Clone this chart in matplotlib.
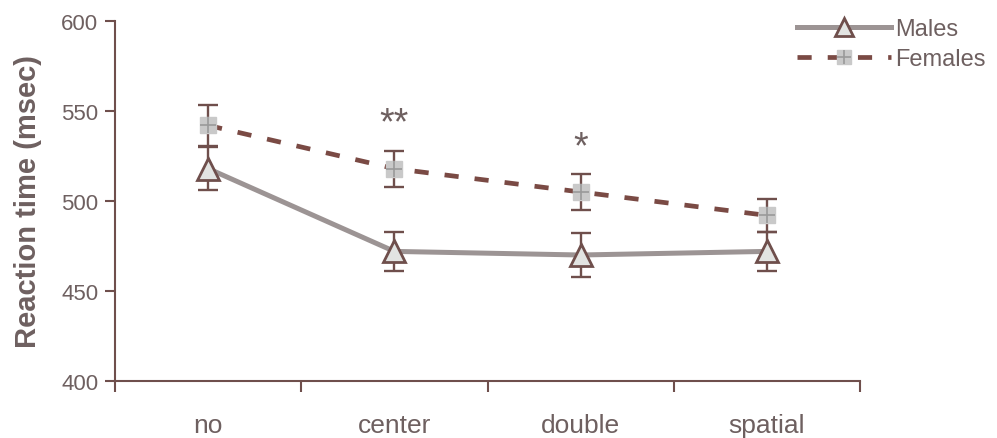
import numpy as np
import matplotlib.pyplot as plt
from matplotlib.lines import Line2D
from matplotlib.legend_handler import HandlerTuple

# data
cues = ["no", "center", "double", "spatial"]
males = [518, 472, 470, 472]
males_err = [12, 11, 12, 11]
females = [542, 518, 505, 492]
females_err = [11.5, 10, 10, 9]
stars = ["", "**", "*", ""]
star_y = [0, 537.5, 524.5, 0]

brown = "#6f4f4c"
txt = "#6e6060"
male_line = "#9c9494"
fem_line = "#7a4a44"
dash = (0, (3.0, 3.4))

plt.rcParams['font.family'] = ['Liberation Sans', 'DejaVu Sans']

fig = plt.figure(figsize=(9.97, 4.39), dpi=100)
ax = fig.add_axes([115/997, 57/439, 745/997, 360/439])

x = np.arange(len(cues))

# males
ax.plot(x, males, color=male_line, lw=3.6, zorder=2)
ax.errorbar(x, males, yerr=males_err, fmt='none', ecolor=brown, elinewidth=1.7,
            capsize=7, capthick=1.7, zorder=3)
ax.plot(x, males, ls='none', marker='^', ms=16, mfc='#e2e4e2', mec=brown, mew=2, zorder=5)

# females
ax.plot(x, females, color=fem_line, lw=3.4, ls=dash, zorder=2)
ax.errorbar(x, females, yerr=females_err, fmt='none', ecolor=brown, elinewidth=1.7,
            capsize=7, capthick=1.7, zorder=3)
ax.plot(x, females, ls='none', marker='s', ms=12, mfc='#c9c9c9', mec='#c9c9c9', zorder=4)
ax.plot(x, females, ls='none', marker='+', ms=12, mec='#9a9a9a', mew=1.2, zorder=5)

for i in range(len(cues)):
    if stars[i]:
        ax.text(x[i], star_y[i], stars[i], ha='center', va='baseline', fontsize=27, color=txt)

ax.set_xlim(-0.5, 3.5)
ax.set_ylim(400, 600)
ax.set_yticks([400, 450, 500, 550, 600])
ax.set_xticks([-0.5, 0.5, 1.5, 2.5, 3.5])
ax.set_xticklabels([])
ax.set_xticks(x, minor=True)
ax.set_xticklabels(cues, minor=True)
ax.tick_params(axis='x', which='minor', length=0, pad=23, labelsize=19, labelcolor=txt)
ax.tick_params(axis='x', which='major', length=8, width=1.5, color=brown, direction='out')
ax.tick_params(axis='y', length=7, width=1.5, color=brown, labelsize=16, labelcolor=txt, pad=5)
for s in ['top', 'right']:
    ax.spines[s].set_visible(False)
for s in ['left', 'bottom']:
    ax.spines[s].set_color(brown)
    ax.spines[s].set_linewidth(1.5)
ax.set_ylabel("Reaction time (msec)", fontsize=21, fontweight='bold', color=txt, labelpad=14)

h_m = (Line2D([], [], color=male_line, lw=3.6),
       Line2D([], [], ls='none', marker='^', ms=13, mfc='#e2e4e2', mec=brown, mew=2))
h_f = (Line2D([], [], color=fem_line, lw=3.4, ls=dash),
       Line2D([], [], ls='none', marker='s', ms=10, mfc='#c9c9c9', mec='#c9c9c9'),
       Line2D([], [], ls='none', marker='+', ms=10, mec='#9a9a9a', mew=1.2))
leg = fig.legend([h_m, h_f], ["Males", "Females"], loc='upper left',
                 bbox_to_anchor=(797/997, 1 - 19/439), frameon=False, fontsize=17,
                 borderpad=0, borderaxespad=0,
                 handlelength=4.0, handletextpad=0.15, labelspacing=0.35,
                 handler_map={tuple: HandlerTuple(ndivide=1)})
for t in leg.get_texts():
    t.set_color(txt)

fig.savefig("out.png", dpi=100)
